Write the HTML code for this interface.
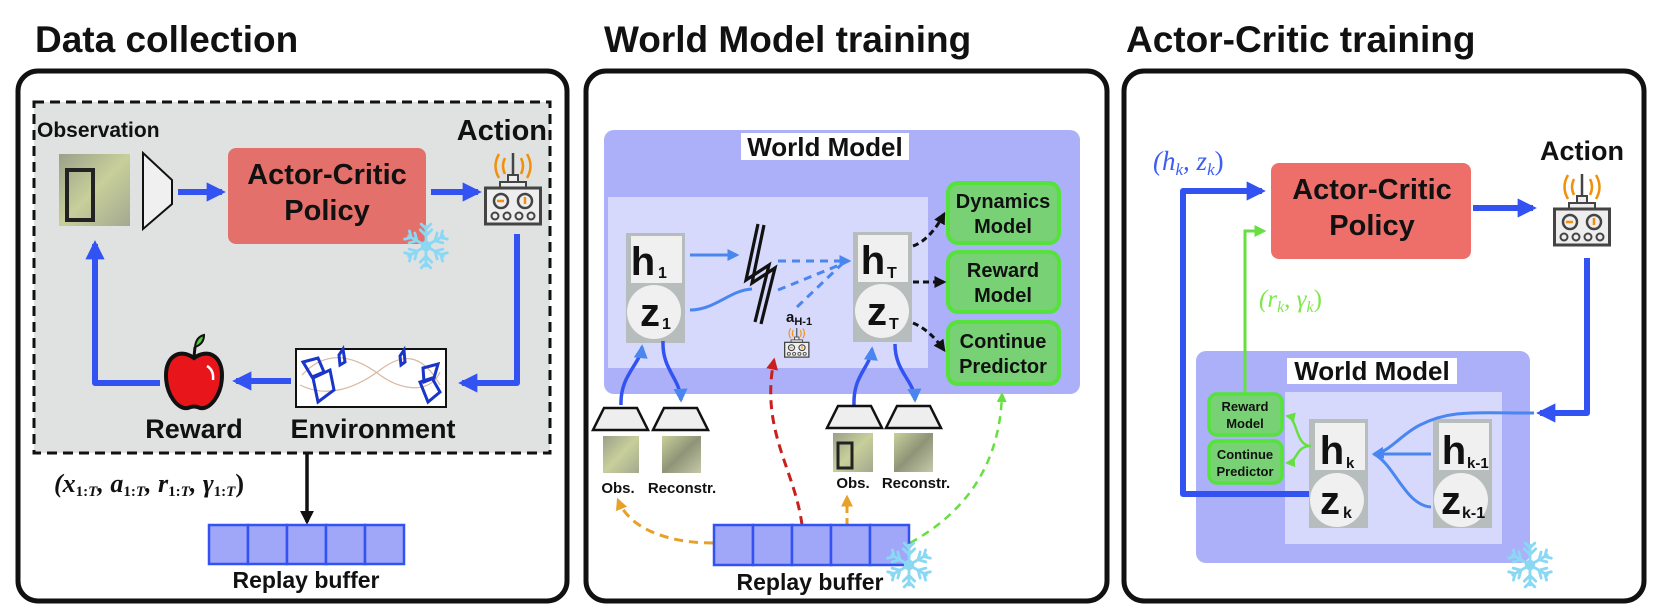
<!DOCTYPE html>
<html><head><meta charset="utf-8"><style>
html,body{margin:0;padding:0;background:#fff;}
svg{display:block;}
.t{font-family:"Liberation Sans",sans-serif;font-weight:bold;fill:#111;}
.m{font-family:"Liberation Serif",serif;font-style:italic;}
</style></head><body>
<svg width="1661" height="613" viewBox="0 0 1661 613" xmlns="http://www.w3.org/2000/svg">
<defs>
<marker id="ab" viewBox="0 0 10 10" refX="8" refY="5" markerWidth="3.2" markerHeight="3.2" orient="auto"><path d="M0,0L10,5L0,10z" fill="#3352f2"/></marker>
<marker id="al" viewBox="0 0 10 10" refX="8" refY="5" markerWidth="4" markerHeight="4" orient="auto"><path d="M0,0L10,5L0,10z" fill="#4a86f0"/></marker>
<marker id="ak" viewBox="0 0 10 10" refX="8" refY="5" markerWidth="4" markerHeight="4" orient="auto"><path d="M0,0L10,5L0,10z" fill="#111"/></marker>
<marker id="ar" viewBox="0 0 10 10" refX="8" refY="5" markerWidth="4" markerHeight="4" orient="auto"><path d="M0,0L10,5L0,10z" fill="#c8201c"/></marker>
<marker id="ao" viewBox="0 0 10 10" refX="8" refY="5" markerWidth="4" markerHeight="4" orient="auto"><path d="M0,0L10,5L0,10z" fill="#e8a028"/></marker>
<marker id="ag" viewBox="0 0 10 10" refX="8" refY="5" markerWidth="4" markerHeight="4" orient="auto"><path d="M0,0L10,5L0,10z" fill="#66e040"/></marker>
<g id="remote">
<line x1="29" y1="0" x2="29" y2="23" stroke="#444" stroke-width="2.5"/>
<g fill="none" stroke="#f0900c" stroke-width="2.5">
<path d="M21,5 Q17,13 21,21"/><path d="M15,1 Q8,13 15,25"/>
<path d="M37,5 Q41,13 37,21"/><path d="M43,1 Q50,13 43,25"/></g>
<rect x="24" y="22" width="10" height="7" fill="#eee" stroke="#444" stroke-width="2"/>
<rect x="16" y="29" width="26" height="6" fill="#eee" stroke="#444" stroke-width="2"/>
<rect x="1.5" y="35" width="55" height="36" fill="#eee" stroke="#444" stroke-width="3"/>
<circle cx="17" cy="48" r="7" fill="none" stroke="#444" stroke-width="2.5"/>
<circle cx="41" cy="48" r="7" fill="none" stroke="#444" stroke-width="2.5"/>
<line x1="13" y1="48" x2="20" y2="48" stroke="#f0900c" stroke-width="2.5"/>
<line x1="41" y1="44" x2="41" y2="51" stroke="#f0900c" stroke-width="2.5"/>
<g fill="none" stroke="#444" stroke-width="2"><circle cx="11" cy="63" r="3.5"/><circle cx="23" cy="63" r="3.5"/><circle cx="35" cy="63" r="3.5"/><circle cx="47" cy="63" r="3.5"/></g>
</g>
<g id="snow" stroke="#8ad8f4" stroke-width="3" fill="none" stroke-linecap="round">
<g id="arm"><line x1="0" y1="0" x2="0" y2="-21"/><path d="M-6,-17 L0,-11 L6,-17"/><path d="M-5,-23 L0,-18 L5,-23"/></g>
<use href="#arm" transform="rotate(60)"/><use href="#arm" transform="rotate(120)"/><use href="#arm" transform="rotate(180)"/><use href="#arm" transform="rotate(240)"/><use href="#arm" transform="rotate(300)"/>
<circle r="4"/>
</g>
<linearGradient id="img1" x1="0" y1="0" x2="1" y2="1"><stop offset="0" stop-color="#9aa08a"/><stop offset="0.5" stop-color="#c8cf9a"/><stop offset="1" stop-color="#a3a890"/></linearGradient>
<linearGradient id="img2" x1="0" y1="0" x2="1" y2="1"><stop offset="0" stop-color="#c9cf9a"/><stop offset="0.5" stop-color="#8f9478"/><stop offset="1" stop-color="#c6c9a8"/></linearGradient>
</defs>

<text class="t" x="35" y="52" font-size="37">Data collection</text>
<text class="t" x="604" y="52" font-size="37">World Model training</text>
<text class="t" x="1126" y="52" font-size="37">Actor-Critic training</text>

<rect x="18" y="71" width="549" height="530" rx="20" fill="#fff" stroke="#111" stroke-width="5"/>
<rect x="586" y="71" width="521" height="530" rx="20" fill="#fff" stroke="#111" stroke-width="5"/>
<rect x="1124" y="71" width="520" height="530" rx="20" fill="#fff" stroke="#111" stroke-width="5"/>

<!-- Panel 1 -->
<rect x="34" y="102" width="516" height="351" fill="#e0e2e2" stroke="#111" stroke-width="3" stroke-dasharray="10,6"/>
<text class="t" x="37" y="137" font-size="21">Observation</text>
<text class="t" x="547" y="140" font-size="29" text-anchor="end">Action</text>
<rect x="59" y="154" width="71" height="72" fill="url(#img1)"/>
<rect x="67" y="170" width="26" height="50" fill="none" stroke="#222" stroke-width="4"/>
<path d="M143,153 L172,180 L172,204 L143,229 Z" fill="#f0f0f0" stroke="#111" stroke-width="2"/>
<line x1="178" y1="192" x2="222" y2="192" stroke="#3352f2" stroke-width="6" marker-end="url(#ab)"/>
<rect x="228" y="148" width="198" height="96" rx="8" fill="#e3706a"/>
<text class="t" x="327" y="184" font-size="29" text-anchor="middle">Actor-Critic</text>
<text class="t" x="327" y="220" font-size="29" text-anchor="middle">Policy</text>
<use href="#snow" transform="translate(426,246) scale(0.95)"/>
<line x1="431" y1="192" x2="478" y2="192" stroke="#3352f2" stroke-width="6" marker-end="url(#ab)"/>
<use href="#remote" transform="translate(484,153)"/>
<polyline points="517,234 517,383 462,383" fill="none" stroke="#3352f2" stroke-width="6" stroke-linejoin="round" marker-end="url(#ab)"/>
<rect x="296" y="349" width="150" height="58" fill="#fff" stroke="#111" stroke-width="2"/>
<path d="M302,375 C330,345 360,360 380,375 S430,395 440,372 M300,385 C330,400 360,385 380,370 S420,350 440,385" fill="none" stroke="#d8b8a0" stroke-width="1.2"/>
<g fill="none" stroke="#1a36c8" stroke-width="3">
<path d="M303,362 L318,358 L324,372 L312,377 Z"/><path d="M313,378 L330,370 L334,390 L318,402 Z"/>
<path d="M339,355 L343,349 L345,362 L340,365 Z"/><path d="M400,356 L404,350 L405,362 L401,365 Z"/>
<path d="M423,368 L438,364 L434,378 L424,382 Z"/><path d="M420,382 L432,378 L440,392 L428,402 Z"/></g>
<line x1="291" y1="381" x2="236" y2="381" stroke="#3352f2" stroke-width="6" marker-end="url(#ab)"/>
<path d="M194,358 C180,348 166,356 166,375 C166,395 178,410 188,408 C192,406 196,406 200,408 C210,410 222,395 222,375 C222,356 208,348 194,358 Z" fill="#e8151a" stroke="#111" stroke-width="4"/>
<path d="M207,366 Q214,370 213,380" fill="none" stroke="#fff" stroke-width="2.5"/>
<path d="M194,357 L195,347" stroke="#111" stroke-width="3"/>
<path d="M195,347 Q196,337 204,335 Q204,344 195,347 Z" fill="#4fcf3a" stroke="#111" stroke-width="2"/>
<polyline points="160,383 95,383 95,244" fill="none" stroke="#3352f2" stroke-width="6" stroke-linejoin="round" marker-end="url(#ab)"/>
<text class="t" x="194" y="438" font-size="27" text-anchor="middle">Reward</text>
<text class="t" x="373" y="438" font-size="27" text-anchor="middle">Environment</text>
<line x1="307" y1="453" x2="307" y2="522" stroke="#111" stroke-width="3.5" marker-end="url(#ak)"/>
<text class="m" x="54" y="492" font-size="26" font-weight="bold" fill="#111">(<tspan>x</tspan><tspan font-size="15" font-style="normal" dy="4">1:</tspan><tspan font-size="15">T</tspan><tspan dy="-4">, a</tspan><tspan font-size="15" font-style="normal" dy="4">1:</tspan><tspan font-size="15">T</tspan><tspan dy="-4">, r</tspan><tspan font-size="15" font-style="normal" dy="4">1:</tspan><tspan font-size="15">T</tspan><tspan dy="-4">, γ</tspan><tspan font-size="15" font-style="normal" dy="4">1:</tspan><tspan font-size="15">T</tspan><tspan dy="-4" font-style="normal">)</tspan></text>
<g fill="#a0a6f8" stroke="#3352f2" stroke-width="2.5">
<rect x="209" y="525" width="39" height="39"/><rect x="248" y="525" width="39" height="39"/><rect x="287" y="525" width="39" height="39"/><rect x="326" y="525" width="39" height="39"/><rect x="365" y="525" width="39" height="39"/></g>
<text class="t" x="306" y="588" font-size="23" text-anchor="middle">Replay buffer</text>

<!-- Panel 2 -->
<rect x="604" y="130" width="476" height="264" rx="10" fill="#abb0f8"/>
<rect x="741" y="133" width="168" height="27" fill="#fff"/>
<text class="t" x="825" y="156" font-size="26" text-anchor="middle">World Model</text>
<rect x="608" y="197" width="320" height="171" fill="#d6d9fc"/>
<rect x="626" y="233" width="59" height="110" fill="#b7bcbd"/>
<rect x="631" y="236" width="51" height="47" fill="#f0f0f0"/>
<circle cx="654" cy="312" r="27" fill="#f0f0f0"/>
<text class="t" x="643" y="275" font-size="40" text-anchor="middle">h</text><text class="t" x="658" y="278" font-size="16">1</text>
<text class="t" x="650" y="326" font-size="40" text-anchor="middle">z</text><text class="t" x="662" y="329" font-size="16">1</text>
<rect x="853" y="232" width="59" height="110" fill="#b7bcbd"/>
<rect x="858" y="235" width="50" height="47" fill="#f0f0f0"/>
<circle cx="882" cy="311" r="27" fill="#f0f0f0"/>
<text class="t" x="873" y="274" font-size="40" text-anchor="middle">h</text><text class="t" x="887" y="278" font-size="16">T</text>
<text class="t" x="877" y="325" font-size="40" text-anchor="middle">z</text><text class="t" x="889" y="329" font-size="16">T</text>
<g fill="none" stroke="#111" stroke-width="3.2">
<polyline points="758,224 746,280 769,265 755,322"/>
<polyline points="764,225 752,283 775,268 761,324"/></g>
<line x1="690" y1="255" x2="737" y2="255" stroke="#4a86f0" stroke-width="3" marker-end="url(#al)"/>
<path d="M690,310 C715,310 730,290 752,289" fill="none" stroke="#4a86f0" stroke-width="3"/>
<g fill="none" stroke="#4a86f0" stroke-width="3" stroke-dasharray="8,6">
<line x1="778" y1="261" x2="849" y2="261" marker-end="url(#al)"/>
<line x1="778" y1="290" x2="842" y2="264"/>
<line x1="797" y1="307" x2="842" y2="264"/></g>
<text class="t" x="786" y="322" font-size="15">a<tspan font-size="11" dy="3">H-1</tspan></text>
<use href="#remote" transform="translate(784,328) scale(0.44,0.41)"/>
<g fill="#79d176" stroke="#55e23a" stroke-width="4">
<rect x="948" y="183" width="111" height="60" rx="10"/><rect x="948" y="252" width="111" height="60" rx="10"/><rect x="948" y="322" width="111" height="62" rx="10"/></g>
<g class="t" font-size="20" text-anchor="middle">
<text x="1003" y="208">Dynamics</text><text x="1003" y="233">Model</text>
<text x="1003" y="277">Reward</text><text x="1003" y="302">Model</text>
<text x="1003" y="348">Continue</text><text x="1003" y="373">Predictor</text></g>
<g fill="none" stroke="#111" stroke-width="3" stroke-dasharray="6,4">
<path d="M913,246 Q930,240 944,214" marker-end="url(#ak)"/>
<line x1="913" y1="282" x2="944" y2="282" marker-end="url(#ak)"/>
<path d="M913,323 Q930,330 944,350" marker-end="url(#ak)"/></g>
<g fill="none" stroke="#3352f2" stroke-width="3.5">
<path d="M621,405 C620,375 640,365 642,347" marker-end="url(#al)"/>
<path d="M663,341 C662,370 680,378 681,400" marker-end="url(#al)"/>
<path d="M854,405 C853,375 870,368 872,349" marker-end="url(#al)"/>
<path d="M895,344 C895,372 914,380 915,400" marker-end="url(#al)"/></g>
<g fill="#eee" stroke="#111" stroke-width="2.5">
<path d="M593,430 L648,430 L637,408 L604,408 Z"/><path d="M653,430 L708,430 L697,408 L664,408 Z"/>
<path d="M827,428 L882,428 L871,406 L838,406 Z"/><path d="M886,428 L941,428 L930,406 L897,406 Z"/></g>
<rect x="603" y="436" width="36" height="37" fill="url(#img1)"/>
<rect x="662" y="436" width="39" height="37" fill="url(#img2)"/>
<rect x="833" y="433" width="40" height="39" fill="url(#img1)"/>
<rect x="838" y="443" width="14" height="25" fill="none" stroke="#222" stroke-width="3"/>
<rect x="894" y="433" width="39" height="39" fill="url(#img2)"/>
<g class="t" font-size="15" text-anchor="middle">
<text x="618" y="493">Obs.</text><text x="682" y="493">Reconstr.</text>
<text x="853" y="488">Obs.</text><text x="916" y="488">Reconstr.</text></g>
<path d="M713,543 C670,543 630,530 618,500" fill="none" stroke="#e8a028" stroke-width="3" stroke-dasharray="9,6" marker-end="url(#ao)"/>
<line x1="847" y1="525" x2="847" y2="497" stroke="#e8a028" stroke-width="3" stroke-dasharray="7,5" marker-end="url(#ao)"/>
<path d="M802,525 C795,470 760,430 774,360" fill="none" stroke="#c8201c" stroke-width="3" stroke-dasharray="9,6" marker-end="url(#ar)"/>
<path d="M910,543 C970,510 1000,460 1002,394" fill="none" stroke="#66e040" stroke-width="2.5" stroke-dasharray="8,6" marker-end="url(#ag)"/>
<g fill="#a0a6f8" stroke="#3352f2" stroke-width="2.5">
<rect x="714" y="525" width="39" height="40"/><rect x="753" y="525" width="39" height="40"/><rect x="792" y="525" width="39" height="40"/><rect x="831" y="525" width="39" height="40"/><rect x="870" y="525" width="39" height="40"/></g>
<text class="t" x="810" y="590" font-size="23" text-anchor="middle">Replay buffer</text>
<use href="#snow" transform="translate(909,565) scale(0.95)"/>

<!-- Panel 3 -->
<text class="m" x="1153" y="170" font-size="27" fill="#3d5df5">(h<tspan font-size="17" dy="5">k</tspan><tspan dy="-5">, z</tspan><tspan font-size="17" dy="5">k</tspan><tspan dy="-5" font-style="normal">)</tspan></text>
<text class="t" x="1582" y="160" font-size="27" text-anchor="middle">Action</text>
<rect x="1271" y="163" width="200" height="96" rx="8" fill="#ee6f6a"/>
<text class="t" x="1372" y="199" font-size="29" text-anchor="middle">Actor-Critic</text>
<text class="t" x="1372" y="235" font-size="29" text-anchor="middle">Policy</text>
<line x1="1473" y1="208" x2="1533" y2="208" stroke="#3352f2" stroke-width="6" marker-end="url(#ab)"/>
<use href="#remote" transform="translate(1553,174)"/>
<rect x="1196" y="351" width="334" height="212" rx="10" fill="#abb0f8"/>
<rect x="1287" y="358" width="170" height="26" fill="#fff"/>
<text class="t" x="1372" y="380" font-size="26" text-anchor="middle">World Model</text>
<rect x="1285" y="392" width="217" height="152" fill="#d6d9fc"/>
<polyline points="1309,494 1183,494 1183,191 1262,191" fill="none" stroke="#3352f2" stroke-width="6" stroke-linejoin="round" marker-end="url(#ab)"/>
<polyline points="1245,394 1245,231 1264,231" fill="none" stroke="#66e040" stroke-width="3" marker-end="url(#ag)"/>
<text class="m" x="1259" y="307" font-size="25" fill="#7ee84a">(r<tspan font-size="16" dy="5">k</tspan><tspan dy="-5">, γ</tspan><tspan font-size="16" dy="5">k</tspan><tspan dy="-5" font-style="normal">)</tspan></text>
<polyline points="1587,258 1587,413 1540,413" fill="none" stroke="#3352f2" stroke-width="6" stroke-linejoin="round" marker-end="url(#ab)"/>
<rect x="1309" y="419" width="59" height="109" fill="#b7bcbd"/>
<rect x="1315" y="423" width="50" height="47" fill="#f0f0f0"/>
<circle cx="1337" cy="500" r="27" fill="#f0f0f0"/>
<text class="t" x="1332" y="464" font-size="40" text-anchor="middle">h</text><text class="t" x="1346" y="468" font-size="15" fill="#c8ccd0">k</text>
<text class="t" x="1330" y="514" font-size="40" text-anchor="middle">z</text><text class="t" x="1343" y="518" font-size="16">k</text>
<rect x="1433" y="419" width="59" height="109" fill="#b7bcbd"/>
<rect x="1439" y="423" width="50" height="47" fill="#f0f0f0"/>
<circle cx="1461" cy="500" r="27" fill="#f0f0f0"/>
<text class="t" x="1454" y="464" font-size="40" text-anchor="middle">h</text><text class="t" x="1467" y="468" font-size="15" fill="#c8ccd0">k-1</text>
<text class="t" x="1451" y="514" font-size="40" text-anchor="middle">z</text><text class="t" x="1462" y="518" font-size="16">k-1</text>
<g fill="none" stroke="#4a86f0" stroke-width="3">
<path d="M1534,413 C1470,413 1450,410 1420,425 C1400,435 1390,452 1374,454" marker-end="url(#al)"/>
<line x1="1431" y1="454" x2="1374" y2="454"/>
<path d="M1431,507 C1405,505 1395,465 1374,454"/></g>
<g fill="#79d176" stroke="#55e23a" stroke-width="3.5">
<rect x="1209" y="394" width="73" height="41" rx="8"/><rect x="1209" y="441" width="73" height="42" rx="8"/></g>
<g class="t" font-size="13" text-anchor="middle">
<text x="1245" y="411">Reward</text><text x="1245" y="428">Model</text>
<text x="1245" y="459">Continue</text><text x="1245" y="476">Predictor</text></g>
<g fill="none" stroke="#66e040" stroke-width="2.5">
<path d="M1311,446 C1295,446 1298,418 1287,416" marker-end="url(#ag)"/>
<path d="M1311,446 C1295,446 1298,462 1287,463" marker-end="url(#ag)"/></g>
<use href="#snow" transform="translate(1530,565) scale(0.95)"/>
</svg>
</body></html>
